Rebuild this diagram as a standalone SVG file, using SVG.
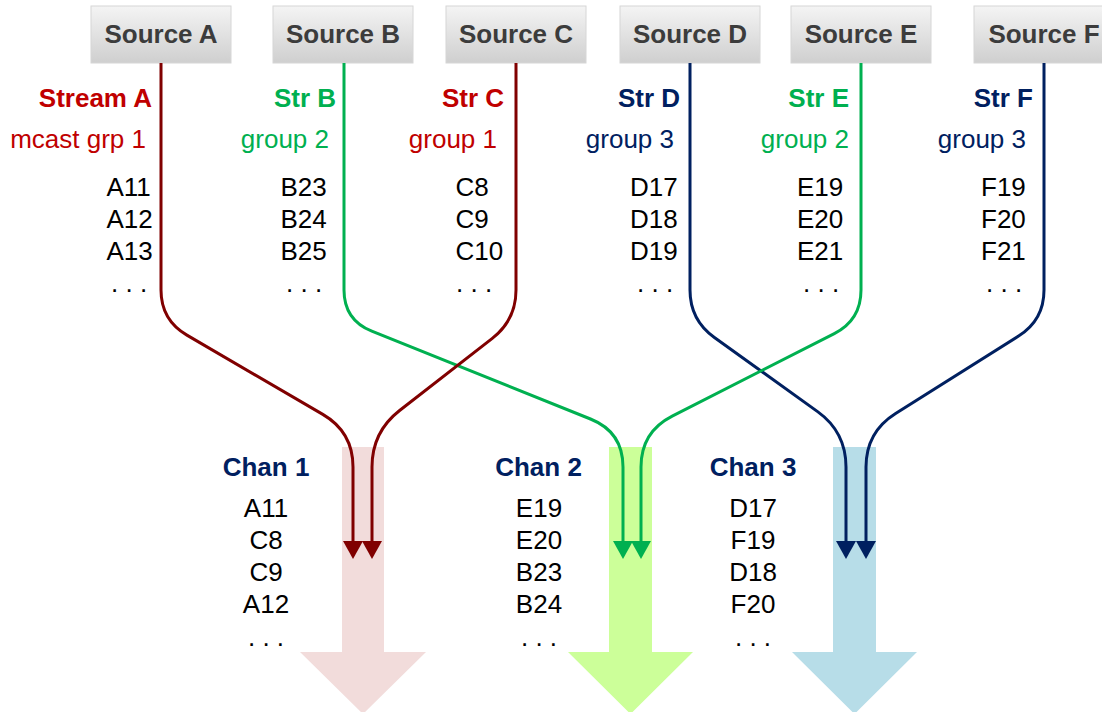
<svg xmlns="http://www.w3.org/2000/svg" width="1102" height="712" viewBox="0 0 1102 712">
<style>
text{font-family:"Liberation Sans",Arial,sans-serif;font-size:26px}
.src{font-weight:bold;fill:#3c3c3c;text-anchor:middle}
.b{font-weight:bold}
.red{fill:#c00000}
.grn{fill:#00b050}
.nav{fill:#002060}
.blk{fill:#000}
.end{text-anchor:end}
.mid{text-anchor:middle}
.box{fill:url(#g);stroke:#d6d6d6;stroke-width:1}
.ln{fill:none;stroke-width:3}
</style>
<defs>
<linearGradient id="g" x1="0" y1="0" x2="0" y2="1">
<stop offset="0" stop-color="#f4f4f4"/>
<stop offset="1" stop-color="#cfcfcf"/>
</linearGradient>
<marker id="mr" markerUnits="userSpaceOnUse" viewBox="0 0 18 20" markerWidth="18" markerHeight="20" refX="4" refY="10" orient="auto"><path d="M0,0 L18,10 L0,20 z" fill="#800000"/></marker>
<marker id="mg" markerUnits="userSpaceOnUse" viewBox="0 0 18 20" markerWidth="18" markerHeight="20" refX="4" refY="10" orient="auto"><path d="M0,0 L18,10 L0,20 z" fill="#00b050"/></marker>
<marker id="mn" markerUnits="userSpaceOnUse" viewBox="0 0 18 20" markerWidth="18" markerHeight="20" refX="4" refY="10" orient="auto"><path d="M0,0 L18,10 L0,20 z" fill="#002060"/></marker>
</defs>
<rect width="1102" height="712" fill="#fff"/>

<g id="chan-arrows">
<polygon points="342,447 384,447 384,652 426,652 363,714 300,652 342,652" fill="#f2dcdb"/>
<polygon points="609,447 652,447 652,652 693,652 630.5,714 568,652 609,652" fill="#ccff99"/>
<polygon points="833,447 876,447 876,652 917,652 854.5,714 792,652 833,652" fill="#b7dde8"/>
</g>

<g id="sourceA"><rect class="box" x="91" y="6" width="140" height="57"/><text class="src" x="161" y="43">Source A</text></g>
<g id="sourceB"><rect class="box" x="273" y="6" width="140" height="57"/><text class="src" x="343" y="43">Source B</text></g>
<g id="sourceC"><rect class="box" x="446" y="6" width="140" height="57"/><text class="src" x="516" y="43">Source C</text></g>
<g id="sourceD"><rect class="box" x="620" y="6" width="140" height="57"/><text class="src" x="690" y="43">Source D</text></g>
<g id="sourceE"><rect class="box" x="791" y="6" width="140" height="57"/><text class="src" x="861" y="43">Source E</text></g>
<g id="sourceF"><rect class="box" x="974" y="6" width="140" height="57"/><text class="src" x="1044" y="43">Source F</text></g>

<g id="connectors">
<path class="ln" stroke="#800000" marker-end="url(#mr)" d="M161,63 V290 Q161,320 186.9,335.1 L322.8,414.4 Q353,432 353,467 V545"/>
<path class="ln" stroke="#00b050" marker-end="url(#mg)" d="M344,63 V290 Q344,320 371.8,331.2 L590.5,419 Q623,432 623,467 V545"/>
<path class="ln" stroke="#800000" marker-end="url(#mr)" d="M516,63 V290 Q516,320 492.3,338.4 L399.6,410.5 Q372,432 372,467 V545"/>
<path class="ln" stroke="#002060" marker-end="url(#mn)" d="M690,63 V290 Q690,320 714.4,337.5 L817.6,411.6 Q846,432 846,467 V545"/>
<path class="ln" stroke="#00b050" marker-end="url(#mg)" d="M861,63 V290 Q861,320 834.3,333.6 L672.2,416.1 Q641,432 641,467 V545"/>
<path class="ln" stroke="#002060" marker-end="url(#mn)" d="M1044,63 V290 Q1044,320 1018.6,336 L895.6,413.4 Q866,432 866,467 V545"/>
</g>

<g id="streamA">
<text class="b red end" x="152" y="107">Stream A</text>
<text class="red end" x="146" y="148">mcast grp 1</text>
<text class="blk" x="106.5" y="196">A11</text>
<text class="blk" x="106.5" y="228">A12</text>
<text class="blk" x="106.5" y="260">A13</text>
<text class="blk" x="111" y="292">. . .</text>
</g>
<g id="streamB">
<text class="b grn end" x="336" y="107">Str B</text>
<text class="grn end" x="329" y="148">group 2</text>
<text class="blk" x="280.5" y="196">B23</text>
<text class="blk" x="280.5" y="228">B24</text>
<text class="blk" x="280.5" y="260">B25</text>
<text class="blk" x="286" y="292">. . .</text>
</g>
<g id="streamC">
<text class="b red end" x="504" y="107">Str C</text>
<text class="red end" x="497" y="148">group 1</text>
<text class="blk" x="455.5" y="196">C8</text>
<text class="blk" x="455.5" y="228">C9</text>
<text class="blk" x="455.5" y="260">C10</text>
<text class="blk" x="456" y="292">. . .</text>
</g>
<g id="streamD">
<text class="b nav end" x="680" y="107">Str D</text>
<text class="nav end" x="674" y="148">group 3</text>
<text class="blk" x="630" y="196">D17</text>
<text class="blk" x="630" y="228">D18</text>
<text class="blk" x="630" y="260">D19</text>
<text class="blk" x="637" y="292">. . .</text>
</g>
<g id="streamE">
<text class="b grn end" x="849" y="107">Str E</text>
<text class="grn end" x="849" y="148">group 2</text>
<text class="blk" x="797" y="196">E19</text>
<text class="blk" x="797" y="228">E20</text>
<text class="blk" x="797" y="260">E21</text>
<text class="blk" x="803" y="292">. . .</text>
</g>
<g id="streamF">
<text class="b nav end" x="1033" y="107">Str F</text>
<text class="nav end" x="1026" y="148">group 3</text>
<text class="blk" x="981" y="196">F19</text>
<text class="blk" x="981" y="228">F20</text>
<text class="blk" x="981" y="260">F21</text>
<text class="blk" x="986" y="292">. . .</text>
</g>

<g id="chan1">
<text class="b nav mid" x="266" y="476">Chan 1</text>
<text class="blk mid" x="266" y="517">A11</text>
<text class="blk mid" x="266" y="549">C8</text>
<text class="blk mid" x="266" y="581">C9</text>
<text class="blk mid" x="266" y="613">A12</text>
<text class="blk mid" x="266" y="646">. . .</text>
</g>
<g id="chan2">
<text class="b nav mid" x="538.5" y="476">Chan 2</text>
<text class="blk mid" x="539" y="517">E19</text>
<text class="blk mid" x="539" y="549">E20</text>
<text class="blk mid" x="539" y="581">B23</text>
<text class="blk mid" x="539" y="613">B24</text>
<text class="blk mid" x="539" y="646">. . .</text>
</g>
<g id="chan3">
<text class="b nav mid" x="753" y="476">Chan 3</text>
<text class="blk mid" x="753" y="517">D17</text>
<text class="blk mid" x="753" y="549">F19</text>
<text class="blk mid" x="753" y="581">D18</text>
<text class="blk mid" x="753" y="613">F20</text>
<text class="blk mid" x="753" y="646">. . .</text>
</g>
</svg>
